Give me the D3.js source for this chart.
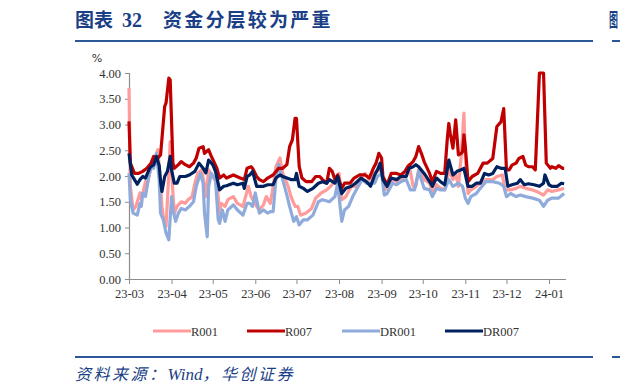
<!DOCTYPE html>
<html><head><meta charset="utf-8">
<script src="https://cdn.jsdelivr.net/npm/d3@7"></script>
<style>
html,body{margin:0;padding:0;background:#fff;overflow:hidden;}
svg{display:block;}
</style>
</head><body>
<svg id="c" width="620" height="392"></svg>
<script>
// ---- data (day offsets from 2023-03-01, values in %) ----
const startDate = "2023-03-01";
const yTicks = [0, 0.5, 1, 1.5, 2, 2.5, 3, 3.5, 4];
const seriesNames = ["R001", "R007", "DR001", "DR007"];

const r001Days = [0,1,3,5,8,9,12,13,15,17,19,21,22,24,25,27,29,30,32,33,35,38,41,43,46,48,50,53,55,56,58,61,64,66,67,70,72,76,79,83,87,89,93,95,
  98,100,103,105,107,110,112,116,118,121,123,125,129,133,136,140,144,147,151,153,155,158,162,165,168,172,175,178,181,184,186,188,192,196,199,202,204,207,209,211,
  215,219,221,224,227,230,233,236,238,240,242,244,245,247,249,253,256,260,265,268,272,274,278,282,285,289,294,297,302,305,308,313,317];
const r001Vals = [3.71,1.80,1.34,1.41,1.67,1.54,1.89,1.80,2.05,2.22,2.35,2.51,2.18,1.41,1.21,1.02,2.05,2.67,1.67,1.28,1.41,1.50,1.47,1.54,1.60,1.86,2.05,2.12,1.80,1.60,2.12,1.99,1.86,1.28,1.47,1.41,1.54,1.60,1.47,1.41,1.80,1.60,1.41,1.34,
  1.44,1.60,1.47,1.80,2.18,2.35,2.05,1.80,1.60,1.41,1.41,1.24,1.28,1.37,1.57,1.67,1.73,1.80,1.93,2.05,1.54,1.60,1.80,1.80,1.93,2.05,1.93,2.05,2.09,2.12,1.73,1.76,1.93,1.89,1.93,2.12,2.22,1.80,1.80,2.12,
  1.93,1.86,1.66,1.83,1.76,1.73,2.12,1.93,2.05,1.80,2.38,3.22,2.38,1.66,1.73,1.80,1.86,1.93,1.93,1.99,2.02,1.73,1.73,1.76,1.80,1.76,1.73,1.70,1.63,1.73,1.70,1.73,1.76];

const r007Days = [0,1,4,7,10,13,16,18,21,23,26,27,29,30,32,33,36,38,41,44,47,49,51,54,55,58,60,64,66,69,71,76,81,84,86,89,90,93,95,
  98,101,105,109,112,115,117,119,121,122,124,126,129,133,136,139,141,144,146,148,150,152,155,157,161,164,168,172,175,178,180,182,184,185,188,191,195,198,201,203,207,209,211,213,215,219,221,224,227,230,232,
  233,234,236,238,240,242,243,244,245,247,250,254,258,261,265,268,271,273,275,277,279,282,284,287,289,291,294,296,299,302,304,307,308,311,313,316,317];
const r007Vals = [3.06,2.25,2.05,2.05,2.09,2.15,2.25,2.38,2.35,2.41,3.35,3.42,3.90,3.87,2.25,2.15,2.22,2.28,2.22,2.18,2.25,2.35,2.54,2.57,2.44,2.51,2.38,2.15,1.96,2.02,1.96,2.02,1.96,1.93,2.15,2.18,2.15,1.99,1.93,
  1.89,1.96,2.02,2.15,2.15,2.22,2.57,2.70,3.12,3.12,2.18,1.96,1.89,1.89,1.99,1.99,1.93,1.86,2.15,2.09,1.93,2.02,1.76,1.86,1.86,1.96,2.02,2.02,1.96,2.15,2.25,2.44,2.35,1.99,1.83,2.05,2.05,2.02,2.09,2.18,2.28,2.38,2.57,2.44,2.28,2.05,1.89,2.09,2.05,2.05,2.76,
  3.02,2.83,2.54,3.09,2.41,2.44,2.47,2.80,2.57,1.89,1.99,2.05,2.25,2.25,2.34,2.96,3.05,3.31,2.12,2.12,2.21,2.25,2.34,2.38,2.21,2.18,2.18,2.12,4.00,4.00,2.25,2.15,2.18,2.15,2.20,2.15,2.15];

const dr001Days = [0,1,3,6,8,9,10,12,14,16,18,20,22,23,25,27,29,31,32,34,36,38,41,44,47,49,52,54,55,57,58,60,63,65,66,68,70,72,76,79,83,86,88,90,92,95,
  98,101,103,105,107,109,112,115,117,120,122,124,127,130,134,138,141,146,150,152,155,157,160,163,167,170,173,176,179,181,184,186,188,192,195,198,202,205,208,211,
  215,219,221,224,227,230,233,236,240,243,245,247,249,253,256,260,265,270,273,275,278,282,285,289,294,299,302,305,308,313,317];
const dr001Vals = [2.05,1.54,1.28,1.24,1.47,1.41,1.67,1.60,1.93,2.18,2.15,2.44,1.93,1.28,1.15,0.89,0.76,1.60,1.34,1.12,1.28,1.37,1.34,1.41,1.50,1.80,2.05,1.86,1.28,0.82,1.80,2.05,1.93,1.15,1.08,1.34,1.12,1.34,1.44,1.34,1.24,1.47,1.47,1.41,1.67,1.28,
  1.34,1.28,1.31,1.31,1.93,2.22,1.93,1.63,1.41,1.12,1.21,1.05,1.15,1.15,1.24,1.50,1.54,1.50,1.60,1.86,1.12,1.34,1.41,1.60,1.80,1.93,1.86,1.86,1.86,1.99,2.05,1.63,1.66,1.86,1.83,1.89,1.93,1.73,1.73,2.09,
  1.76,1.73,1.60,1.76,1.73,1.73,1.93,1.80,1.86,1.80,1.57,1.47,1.60,1.66,1.76,1.89,1.89,1.86,1.80,1.60,1.66,1.60,1.63,1.60,1.57,1.53,1.41,1.53,1.57,1.57,1.66];

const dr007Days = [0,2,4,6,8,10,12,15,16,18,20,22,23,24,26,28,30,31,33,35,37,41,44,48,51,54,56,58,61,63,66,69,71,76,79,83,84,86,88,90,93,95,
  98,101,105,107,110,112,115,118,121,122,124,127,130,134,138,141,144,146,150,152,155,158,162,165,169,173,176,179,181,183,185,188,191,195,198,202,204,207,209,211,
  215,219,221,224,227,230,233,236,239,242,244,247,250,253,256,259,262,265,268,271,274,276,279,283,285,288,291,295,299,302,303,306,308,312,315,317];
const dr007Vals = [2.44,2.02,1.93,1.84,1.93,1.99,1.96,2.15,2.18,2.22,2.38,2.20,1.89,1.70,1.99,2.09,2.38,2.12,1.86,1.86,1.99,1.99,2.02,2.09,2.25,2.15,2.06,2.31,2.22,2.09,1.73,1.80,1.81,1.86,1.83,1.86,1.76,1.99,2.02,2.09,1.80,1.80,
  1.80,1.83,1.83,1.96,2.02,1.99,1.96,1.93,1.93,2.05,1.80,1.76,1.70,1.76,1.86,1.89,1.86,1.93,1.86,1.99,1.66,1.76,1.80,1.86,1.96,1.89,1.80,2.02,2.12,2.25,1.93,1.80,1.96,1.93,1.99,1.99,2.15,2.18,2.22,2.18,
  2.05,1.89,1.80,1.96,1.89,1.83,2.31,2.02,2.09,2.12,2.15,1.80,1.80,1.86,1.86,2.05,2.02,2.05,2.18,2.15,2.15,1.80,1.83,1.86,1.93,1.83,1.85,1.83,1.80,1.86,2.02,1.83,1.80,1.80,1.86,1.85];

// ---- chart ----
const svg = d3.select("#c");
const serif = "'Liberation Serif','Times New Roman',serif";
const cjk = "'Noto Sans CJK SC','Noto Sans',sans-serif";
const titleColor = "#1a3f86";

const base = d3.timeParse("%Y-%m-%d")(startDate);
const toDate = d => d3.timeDay.offset(base, d);

const x = d3.scaleTime()
  .domain([base, toDate(318)])
  .range([129, 565.5]);
const y = d3.scaleLinear().domain([0, 4]).range([279, 73]);

// title
const title = svg.append("text").attr("y", 27)
  .attr("font-weight", "bold").attr("font-size", 19).attr("fill", titleColor);
title.append("tspan").attr("x", 75).attr("font-family", cjk).text("图表");
title.append("tspan").attr("x", 122).attr("font-family", serif).attr("font-size", 20).text("32");
title.append("tspan").attr("x", 163).attr("font-family", cjk).attr("letter-spacing", 2.2).text("资金分层较为严重");
// edge of the neighbouring panel's title (only a sliver shows)
svg.append("text").attr("x", 609).attr("y", 27)
  .attr("font-family", cjk).attr("font-weight", "bold").attr("font-size", 19)
  .attr("fill", titleColor).attr("textLength", 9).attr("lengthAdjust", "spacingAndGlyphs").text("图");
svg.append("rect").attr("x", 75).attr("y", 40).attr("width", 518).attr("height", 2).attr("fill", "#2b5797");
svg.append("rect").attr("x", 612).attr("y", 40).attr("width", 8).attr("height", 2).attr("fill", "#2b5797");

// unit
svg.append("text").attr("x", 97).attr("y", 62).attr("text-anchor", "middle")
  .attr("font-family", "'DejaVu Sans',sans-serif").attr("font-size", 11).attr("fill", "#333").text("%");

// y axis
const yAxis = svg.append("g").attr("transform", "translate(129,0)")
  .call(d3.axisLeft(y).tickValues(yTicks).tickFormat(d3.format(".2f")).tickSize(4).tickPadding(4));
yAxis.select(".domain").attr("stroke", "#8c8c8c").attr("stroke-width", 1.2);
yAxis.selectAll(".tick line").attr("stroke", "#8c8c8c");
yAxis.selectAll(".tick text").attr("font-family", serif).attr("font-size", 12.5).attr("fill", "#333");

// x axis
const xAxis = svg.append("g").attr("transform", "translate(0,279)")
  .call(d3.axisBottom(x).ticks(d3.timeMonth.every(1)).tickFormat(d3.timeFormat("%y-%m")).tickSizeInner(5).tickSizeOuter(0).tickPadding(5));
xAxis.select(".domain").attr("stroke", "#8c8c8c").attr("stroke-width", 1.2);
xAxis.selectAll(".tick line").attr("stroke", "#8c8c8c");
xAxis.selectAll(".tick text").attr("font-family", serif).attr("font-size", 12.5).attr("fill", "#333");

// lines
const colors = {R001: "#ff9b9b", R007: "#c00000", DR001: "#8fabdc", DR007: "#00215f"};
const seriesData = {
  R001: r001Days.map((d, i) => [toDate(d), r001Vals[i]]),
  R007: r007Days.map((d, i) => [toDate(d), r007Vals[i]]),
  DR001: dr001Days.map((d, i) => [toDate(d), dr001Vals[i]]),
  DR007: dr007Days.map((d, i) => [toDate(d), dr007Vals[i]])
};
const line = d3.line().x(d => x(d[0])).y(d => y(d[1]));
["R001", "DR001", "R007", "DR007"].forEach(name => {
  svg.append("path").datum(seriesData[name])
    .attr("fill", "none").attr("stroke", colors[name])
    .attr("stroke-width", 3.2).attr("stroke-linejoin", "round").attr("stroke-linecap", "butt")
    .attr("d", line);
});

// legend
const legendX = [153, 247, 342, 445];
const lg = svg.append("g");
seriesNames.forEach((name, i) => {
  lg.append("line").attr("x1", legendX[i]).attr("x2", legendX[i] + 38)
    .attr("y1", 331).attr("y2", 331).attr("stroke", colors[name]).attr("stroke-width", 3);
  lg.append("text").attr("x", legendX[i] + 38).attr("y", 335.5)
    .attr("font-family", serif).attr("font-size", 12.5).attr("fill", "#333").text(name);
});

// bottom rule and source
svg.append("rect").attr("x", 75).attr("y", 356).attr("width", 518).attr("height", 2).attr("fill", "#2b5797");
svg.append("rect").attr("x", 612).attr("y", 356).attr("width", 8).attr("height", 2).attr("fill", "#2b5797");
const src = svg.append("text").attr("x", 75).attr("y", 380)
  .attr("font-style", "italic").attr("font-size", 16).attr("fill", titleColor);
src.append("tspan").attr("font-family", cjk).attr("letter-spacing", 2.5).text("资料来源：");
src.append("tspan").attr("font-family", serif).attr("font-size", 17).text("Wind");
src.append("tspan").attr("font-family", cjk).attr("letter-spacing", 2.5).text("，华创证券");
</script>
</body></html>
